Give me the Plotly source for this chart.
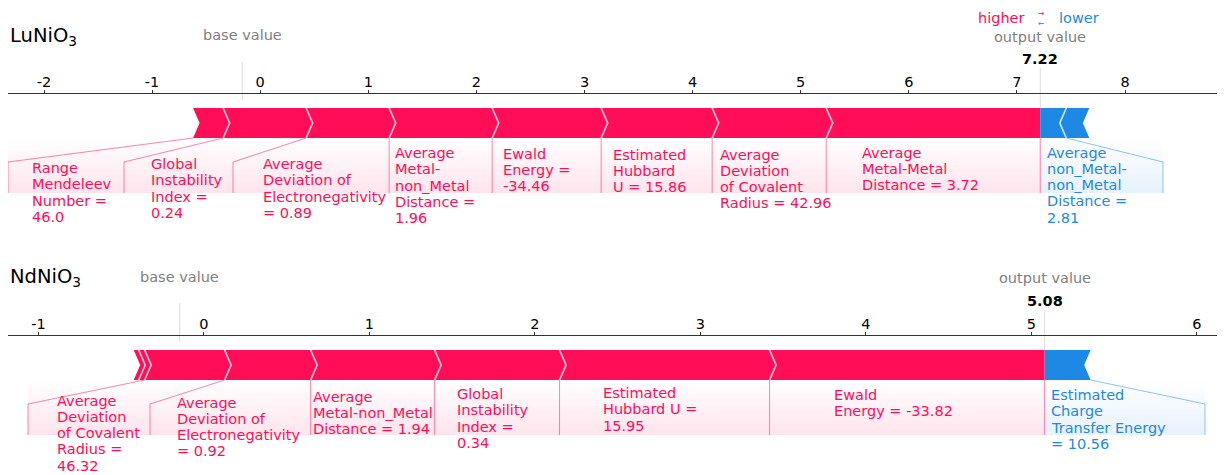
import plotly.graph_objects as go

# ---------------- data ----------------
lu_title = "LuNiO<sub>3</sub>"
lu_base_value = -0.167
lu_pos_labels = [
    ["Range", "Mendeleev", "Number =", "46.0"],
    ["Global", "Instability", "Index =", "0.24"],
    ["Average", "Deviation of", "Electronegativity", "= 0.89"],
    ["Average", "Metal-", "non_Metal", "Distance =", "1.96"],
    ["Ewald", "Energy =", "-34.46"],
    ["Estimated", "Hubbard", "U = 15.86"],
    ["Average", "Deviation", "of Covalent", "Radius = 42.96"],
    ["Average", "Metal-Metal", "Distance = 3.72"],
]
lu_pos_shap = [0.278, 0.768, 0.768, 0.953, 1.008, 1.027, 1.055, 1.980]
lu_neg_labels = [["Average", "non_Metal-", "non_Metal", "Distance =", "2.81"], None]
lu_neg_shap = [-0.241, -0.213]
lu_ticks = [-2, -1, 0, 1, 2, 3, 4, 5, 6, 7, 8]

nd_title = "NdNiO<sub>3</sub>"
nd_base_value = -0.146
nd_pos_labels = [
    None,
    None,
    ["Average", "Deviation", "of Covalent", "Radius =", "46.32"],
    ["Average", "Deviation of", "Electronegativity", "= 0.92"],
    ["Average", "Metal-non_Metal", "Distance = 1.94"],
    ["Global", "Instability", "Index =", "0.34"],
    ["Estimated", "Hubbard U =", "15.95"],
    ["Ewald", "Energy = -33.82"],
]
nd_pos_shap = [0.030, 0.036, 0.483, 0.520, 0.749, 0.755, 1.269, 1.662]
nd_neg_labels = [["Estimated", "Charge", "Transfer Energy", "= 10.56"]]
nd_neg_shap = [-0.278]
nd_ticks = [-1, 0, 1, 2, 3, 4, 5, 6]

# ---------------- style / layout ----------------
OFF = 8                      # page body margin: figure is drawn at (8, 8)
PAGE_W, PAGE_H = 1225, 475
W, H = PAGE_W - OFF, PAGE_H - OFF
RED = "#ff0d57"
BLUE = "#1e88e5"
FONT = "DejaVu Sans"
FS = 14.5
LINE_H = 16.3
DOM_PX = (OFF, 1218)         # page-pixel extent of the axis lines

panels = [
    dict(
        title=lu_title, base=lu_base_value, pos=lu_pos_shap, pos_labels=lu_pos_labels,
        neg=lu_neg_shap, neg_labels=lu_neg_labels, ticks=lu_ticks,
        xa="x", axkey="xaxis", zero_px=260.2, ppu=108.1, axis_y=93,
        bar_top=108, bar_bot=138, diag_y=162, vert_y=193,
        title_y=36, base_txt_y=35, out_txt_y=37, out_val_y=58.5,
        base_line=(62, 100), out_line=(68, 108),
        pos_edge_px=[8, 124, 233, None, None, None, None, None, None],
        neg_edge_px=[None, 1163],
        pos_text=[(32, 168), (151, 164), (263, 164), (395, 153), (503, 153.5),
                  (613, 154.5), (720, 154.5), (862, 152.5)],
        neg_text=[(1047, 152.5), None],
    ),
    dict(
        title=nd_title, base=nd_base_value, pos=nd_pos_shap, pos_labels=nd_pos_labels,
        neg=nd_neg_shap, neg_labels=nd_neg_labels, ticks=nd_ticks,
        xa="x2", axkey="xaxis2", zero_px=203.9, ppu=165.5, axis_y=335,
        bar_top=350, bar_bot=380, diag_y=404, vert_y=435,
        title_y=277, base_txt_y=277, out_txt_y=278, out_val_y=300.5,
        base_line=(303, 342), out_line=(310, 350),
        pos_edge_px=[28, 150, None, None, None, None, None],
        neg_edge_px=[None, 1205],
        pos_text=[None, None, (57, 400.5), (177, 402.5), (313, 396.5), (457, 394),
                  (603, 393), (834, 395)],
        neg_text=[(1051, 395)],
    ),
]

fig = go.Figure()
annotations = []


def add_text(xpx, ypx, text, color, size=FS, anchor="left", bold=False):
    annotations.append(dict(
        x=(xpx - OFF) / W, xref="paper", y=ypx, yref="y",
        text=(f"<b>{text}</b>" if bold else text),
        showarrow=False, xanchor=anchor, yanchor="middle",
        font=dict(family=FONT, size=size, color=color), borderpad=0, borderwidth=0,
    ))


for p in panels:
    px2x = lambda px, p=p: (px - p["zero_px"]) / p["ppu"]
    x2px = lambda x, p=p: p["zero_px"] + x * p["ppu"]
    tip = 6.5 / p["ppu"]
    top, bot = p["bar_top"], p["bar_bot"]
    mid = (top + bot) / 2
    out = p["base"] + sum(p["pos"]) + sum(p["neg"])
    xa = p["xa"]

    # positive (red) segment edges, left to right
    pos_edges = [out - sum(p["pos"])]
    for v in p["pos"]:
        pos_edges.append(pos_edges[-1] + v)
    # negative (blue) segment edges, from output outward
    neg_edges = [out]
    for v in p["neg"]:
        neg_edges.append(neg_edges[-1] - v)

    # label background gradients
    k = next(i for i, l in enumerate(p["pos_labels"]) if l is not None)
    lab_edges = pos_edges[k:]
    bx = [px2x(e) if e is not None else lab_edges[i] for i, e in enumerate(p["pos_edge_px"])]
    fig.add_trace(go.Scatter(
        x=[bx[0], out, out, bx[0], bx[0]], y=[bot, bot, p["vert_y"], p["vert_y"], bot],
        xaxis=xa, yaxis="y", mode="none", fill="toself", hoverinfo="skip",
        fillgradient=dict(type="vertical", colorscale=[[0, "rgba(255,13,87,0.11)"], [1, "rgba(255,13,87,0)"]]),
    ))
    nlab = [i for i, l in enumerate(p["neg_labels"]) if l is not None]
    nlab_edges = neg_edges[: nlab[-1] + 2]
    nbx = [px2x(e) if e is not None else nlab_edges[i] for i, e in enumerate(p["neg_edge_px"])]
    fig.add_trace(go.Scatter(
        x=[out, nbx[-1], nbx[-1], out, out], y=[bot, bot, p["vert_y"], p["vert_y"], bot],
        xaxis=xa, yaxis="y", mode="none", fill="toself", hoverinfo="skip",
        fillgradient=dict(type="vertical", colorscale=[[0, "rgba(30,136,229,0.11)"], [1, "rgba(30,136,229,0)"]]),
    ))

    # base / output vertical guide lines
    for xv, (y0, y1) in ((p["base"], p["base_line"]), (out, p["out_line"])):
        fig.add_trace(go.Scatter(x=[xv, xv], y=[y0, y1], xaxis=xa, yaxis="y", mode="lines",
                                 line=dict(color="#dddddd", width=1), hoverinfo="skip"))

    # red segments
    n = len(p["pos"])
    sep_x, sep_y = [], []
    for i in range(n):
        x0, x1 = pos_edges[i], pos_edges[i + 1]
        if i == n - 1:
            xs = [x0, x1, x1, x0, x0 + tip, x0]
            ys = [top, top, bot, bot, mid, top]
        else:
            xs = [x0, x1, x1 + tip, x1, x0, x0 + tip, x0]
            ys = [top, top, mid, bot, bot, mid, top]
        fig.add_trace(go.Scatter(x=xs, y=ys, xaxis=xa, yaxis="y", mode="lines", fill="toself",
                                 fillcolor=RED, line=dict(width=0, color=RED), hoverinfo="skip"))
        if i > 0:
            sep_x += [x0, x0 + tip, x0, None]
            sep_y += [top, mid, bot, None]
    # blue segments
    m = len(p["neg"])
    for i in range(m):
        x0, x1 = neg_edges[i], neg_edges[i + 1]
        if i == 0:
            xs = [x0, x1, x1 - tip, x1, x0, x0]
            ys = [top, top, mid, bot, bot, top]
        else:
            xs = [x0, x1, x1 - tip, x1, x0, x0 - tip, x0]
            ys = [top, top, mid, bot, bot, mid, top]
        fig.add_trace(go.Scatter(x=xs, y=ys, xaxis=xa, yaxis="y", mode="lines", fill="toself",
                                 fillcolor=BLUE, line=dict(width=0, color=BLUE), hoverinfo="skip"))
        if i > 0:
            sep_x += [x0, x0 - tip, x0, None]
            sep_y += [top, mid, bot, None]
    fig.add_trace(go.Scatter(x=sep_x, y=sep_y, xaxis=xa, yaxis="y", mode="lines",
                             line=dict(color="rgba(255,255,255,0.7)", width=1.8), hoverinfo="skip"))

    # label connector lines
    lx, ly = [], []
    for e, b in zip(lab_edges, bx):
        lx += [e, b, b, None]
        ly += [bot, p["diag_y"], p["vert_y"], None]
    fig.add_trace(go.Scatter(x=lx, y=ly, xaxis=xa, yaxis="y", mode="lines",
                             line=dict(color="rgba(255,13,87,0.5)", width=1), hoverinfo="skip"))
    lx, ly = [], []
    for e, b in zip(nlab_edges[1:], nbx[1:]):
        lx += [e, b, b, None]
        ly += [bot, p["diag_y"], p["vert_y"], None]
    fig.add_trace(go.Scatter(x=lx, y=ly, xaxis=xa, yaxis="y", mode="lines",
                             line=dict(color="rgba(30,136,229,0.5)", width=1), hoverinfo="skip"))

    # label texts
    for lines, pos in zip(p["pos_labels"], p["pos_text"]):
        if lines is None:
            continue
        for j, t in enumerate(lines):
            add_text(pos[0], pos[1] + j * LINE_H, t, RED)
    for lines, pos in zip(p["neg_labels"], p["neg_text"]):
        if lines is None:
            continue
        for j, t in enumerate(lines):
            add_text(pos[0], pos[1] + j * LINE_H, t, BLUE)

    # headers
    add_text(10, p["title_y"], p["title"], "black", size=19.5)
    add_text(x2px(p["base"]), p["base_txt_y"], "base value", "#808080", anchor="center")
    add_text(x2px(out), p["out_txt_y"], "output value", "#808080", anchor="center")
    add_text(x2px(out), p["out_val_y"], f"{out:.2f}", "black", anchor="center", bold=True)

    # axis
    dom = [(DOM_PX[0] - OFF) / W, (DOM_PX[1] - OFF) / W]
    axis = dict(
        range=[px2x(DOM_PX[0]), px2x(DOM_PX[1])], domain=dom, anchor="free",
        position=1 - (p["axis_y"] - OFF) / H, side="top", showgrid=False, zeroline=False,
        showline=True, linecolor="#333333", linewidth=1.2, ticks="outside", ticklen=3,
        tickcolor="#333333", tickwidth=1, ticklabelstandoff=-3,
        tickvals=p["ticks"], ticktext=[str(t) for t in p["ticks"]],
        tickfont=dict(family=FONT, size=FS, color="black"), fixedrange=True,
    )
    if p["axkey"] == "xaxis2":
        axis["overlaying"] = "x"
    fig.layout[p["axkey"]] = axis

# higher / lower legend
add_text(1001, 18, "higher", RED, anchor="center")
add_text(1079, 18, "lower", BLUE, anchor="center")
add_text(1041, 18,
         f"<span style='color:{RED}'>→</span><br><span style='color:{BLUE}'>←</span>",
         BLUE, size=7.5, anchor="center")

fig.update_layout(
    width=W, height=H, margin=dict(l=0, r=0, t=0, b=0),
    paper_bgcolor="white", plot_bgcolor="white", showlegend=False,
    yaxis=dict(range=[OFF + H, OFF], domain=[0, 1], visible=False, fixedrange=True),
    annotations=annotations,
)

fig.write_html("out.html")
